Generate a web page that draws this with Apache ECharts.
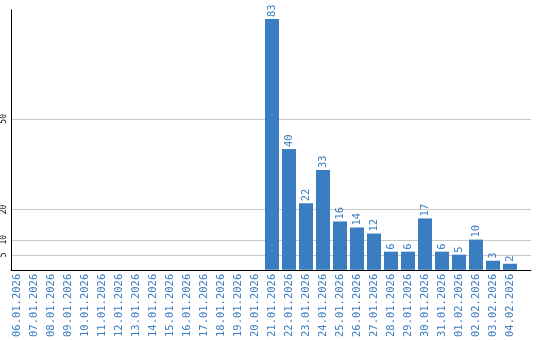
<!DOCTYPE html>
<html><head><meta charset="utf-8">
<script src="https://cdn.jsdelivr.net/npm/echarts@6/dist/echarts.min.js"></script>
<style>html,body{margin:0;padding:0;background:#fff}#c{width:540px;height:340px}</style>
</head><body><div id="c"></div>
<script>
const categories = ["06.01.2026","07.01.2026","08.01.2026","09.01.2026","10.01.2026","11.01.2026","12.01.2026","13.01.2026","14.01.2026","15.01.2026","16.01.2026","17.01.2026","18.01.2026","19.01.2026","20.01.2026","21.01.2026","22.01.2026","23.01.2026","24.01.2026","25.01.2026","26.01.2026","27.01.2026","28.01.2026","29.01.2026","30.01.2026","31.01.2026","01.02.2026","02.02.2026","03.02.2026","04.02.2026"];
const values = [0,0,0,0,0,0,0,0,0,0,0,0,0,0,0,83,40,22,33,16,14,12,6,6,17,6,5,10,3,2];
const yTicks = [5,10,20,50];
const yMax = 86;

const blue = '#3b7dc2';
const mono = '"DejaVu Sans Mono", monospace';
const chart = echarts.init(document.getElementById('c'), null, {renderer:'canvas'});
chart.setOption({
  animation:false,
  backgroundColor:'#fff',
  grid:[
    {left:10, right:9, top:10, bottom:70},
    {left:8.5, right:21.5, top:10, bottom:70}
  ],
  xAxis:[
    {type:'value', gridIndex:0, min:0, max:1, axisLine:{show:true,onZero:false,lineStyle:{color:'#000',width:1}}, axisTick:{show:false}, axisLabel:{show:false}, splitLine:{show:false}, z:20},
    {type:'category', gridIndex:1, data:categories, axisLine:{show:false}, axisTick:{show:false},
     axisLabel:{rotate:90, interval:0, color:blue, fontFamily:mono, fontSize:10.5, margin:4}}
  ],
  yAxis:[
    {type:'value', gridIndex:0, min:0, max:yMax,
     axisLine:{show:true,lineStyle:{color:'#000',width:1}}, axisTick:{show:false},
     axisLabel:{customValues:yTicks, rotate:90, color:'#000', fontFamily:mono, fontSize:8, margin:3},
     splitLine:{show:false}, z:20},
    {type:'value', gridIndex:1, min:0, max:yMax, show:false, splitLine:{show:false}}
  ],
  series:[
    {type:'line', xAxisIndex:0, yAxisIndex:0, data:[], silent:true, z:1, zlevel:0,
     markLine:{silent:true, symbol:'none', label:{show:false}, z:1,
       lineStyle:{color:'#c8c8c8', width:1, type:'solid'},
       data: yTicks.map(v=>({yAxis:v}))}},
    {type:'bar', xAxisIndex:1, yAxisIndex:1, data:values, barWidth:14, z:10,
     itemStyle:{color:blue},
     label:{show:true, position:'top', rotate:90, align:'left', verticalAlign:'middle', distance:2,
       color:blue, fontFamily:mono, fontSize:10.5,
       formatter:p=>p.value>0?String(p.value):''}}
  ]
});
</script></body></html>
